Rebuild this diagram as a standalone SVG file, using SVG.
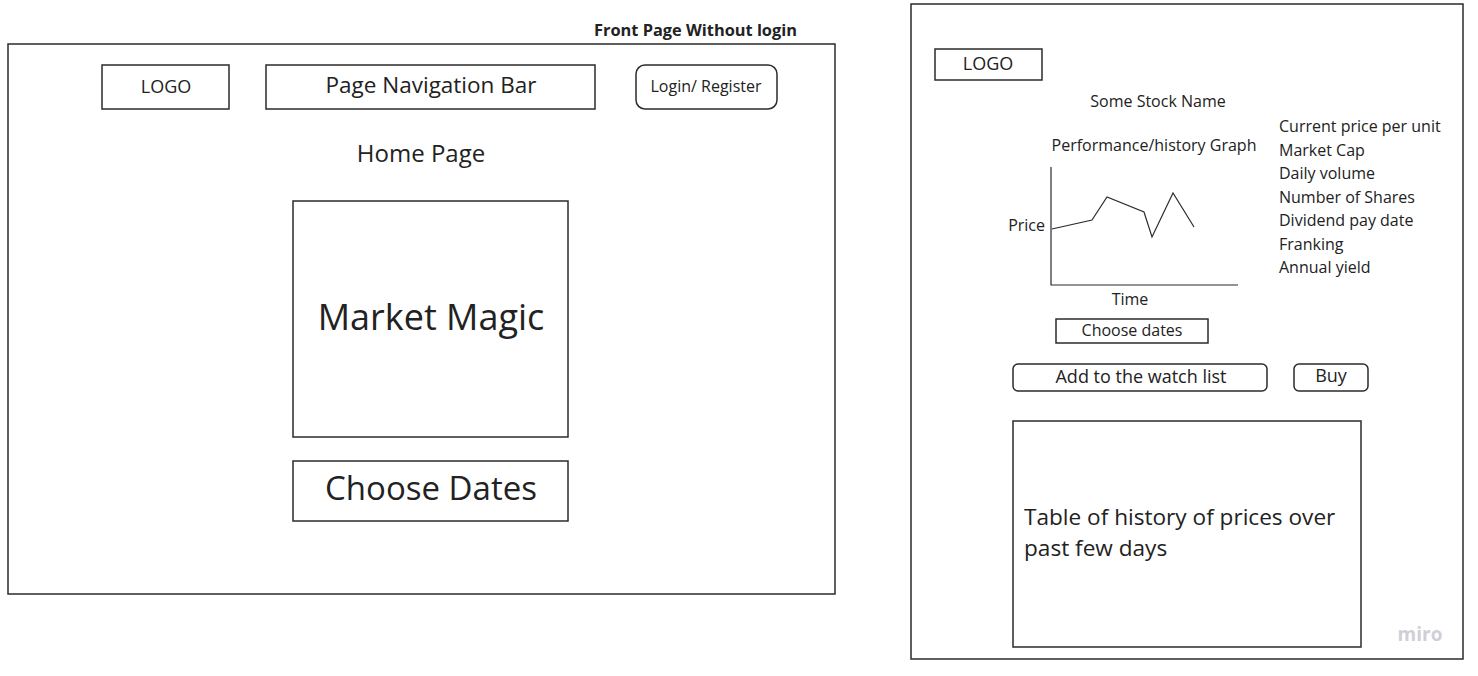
<svg xmlns="http://www.w3.org/2000/svg" width="1478" height="676" viewBox="0 0 1478 676">
<style>
.b{fill:#fff;stroke:#2b2b2b;stroke-width:1.5}
.t{font-family:"Open Sans","Noto Sans",sans-serif;fill:#222}
.m{text-anchor:middle}
.ln{fill:none;stroke:#2b2b2b;stroke-width:1.2}
</style>
<rect width="1478" height="676" fill="#fff"/>
<g id="frame-front">
<rect class="b" x="8" y="44" width="827" height="550"/>
<text class="t" x="594" y="36" font-size="16" font-weight="bold" textLength="203" lengthAdjust="spacingAndGlyphs">Front Page Without login</text>
</g>
<g id="logo-front">
<rect class="b" x="102" y="65" width="127" height="44"/>
<text class="t m" x="166" y="93" font-size="18">LOGO</text>
</g>
<g id="navbar">
<rect class="b" x="266" y="65" width="329" height="44"/>
<text class="t m" x="431" y="93" font-size="22.5">Page Navigation Bar</text>
</g>
<g id="login">
<rect class="b" x="636" y="65" width="141" height="44" rx="9"/>
<text class="t m" x="706" y="92" font-size="16">Login/ Register</text>
</g>
<g id="home">
<text class="t m" x="421" y="162" font-size="24">Home Page</text>
</g>
<g id="market-magic">
<rect class="b" x="293" y="201" width="275" height="236"/>
<text class="t m" x="431" y="330" font-size="36">Market Magic</text>
</g>
<g id="choose-dates-front">
<rect class="b" x="293" y="461" width="275" height="60"/>
<text class="t m" x="431" y="500" font-size="33">Choose Dates</text>
</g>
<g id="frame-stock">
<rect class="b" x="911" y="4" width="552" height="655"/>
<text x="1420" y="641" font-family="'Open Sans',sans-serif" font-size="19" font-weight="bold" fill="#cfcfd8" text-anchor="middle">miro</text>
</g>
<g id="logo-stock">
<rect class="b" x="935" y="49" width="107" height="31"/>
<text class="t m" x="988" y="70" font-size="18">LOGO</text>
</g>
<g id="stock-name">
<text class="t m" x="1158" y="107" font-size="16">Some Stock Name</text>
</g>
<g id="graph">
<text class="t m" x="1154" y="151" font-size="16">Performance/history Graph</text>
<polyline class="ln" points="1051,167 1051,285 1238,285"/>
<polyline class="ln" points="1052,229 1092,220 1107,197 1144,212 1152,237 1173,193 1194,227"/>
<text class="t" x="1045" y="231" font-size="16" text-anchor="end">Price</text>
<text class="t m" x="1130" y="305" font-size="16">Time</text>
</g>
<g id="choose-dates-stock">
<rect class="b" x="1056" y="319" width="152" height="24"/>
<text class="t m" x="1132" y="336" font-size="16">Choose dates</text>
</g>
<g id="stock-info">
<text class="t" x="1279" y="132" font-size="16">Current price per unit</text>
<text class="t" x="1279" y="156" font-size="16">Market Cap</text>
<text class="t" x="1279" y="179" font-size="16">Daily volume</text>
<text class="t" x="1279" y="203" font-size="16">Number of Shares</text>
<text class="t" x="1279" y="226" font-size="16">Dividend pay date</text>
<text class="t" x="1279" y="250" font-size="16">Franking</text>
<text class="t" x="1279" y="273" font-size="16">Annual yield</text>
</g>
<g id="watchlist">
<rect class="b" x="1013" y="364" width="254" height="27" rx="5"/>
<text class="t m" x="1141" y="383" font-size="18">Add to the watch list</text>
</g>
<g id="buy">
<rect class="b" x="1294" y="364" width="74" height="27" rx="5"/>
<text class="t m" x="1331" y="382" font-size="18">Buy</text>
</g>
<g id="history-table">
<rect class="b" x="1013" y="421" width="348" height="226"/>
<text class="t" x="1024" y="525" font-size="22.6">Table of history of prices over</text>
<text class="t" x="1024" y="556" font-size="22.6">past few days</text>
</g>
<g id="connectors"></g>
</svg>
